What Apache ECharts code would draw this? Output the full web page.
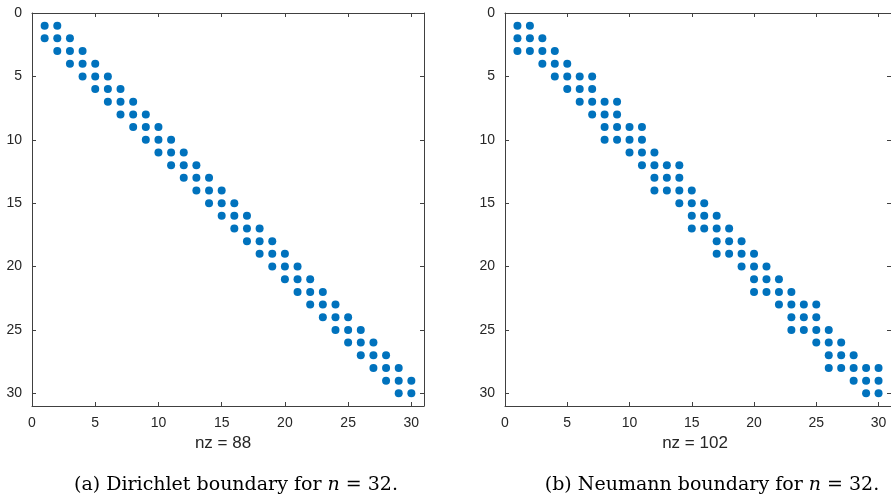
<!DOCTYPE html>
<html><head><meta charset="utf-8">
<script src="https://cdn.jsdelivr.net/npm/echarts@6/dist/echarts.min.js"></script>
<style>html,body{margin:0;padding:0;background:#fff}#c{width:891px;height:498px}</style>
</head><body><div id="c"></div>
<script>
// Non-zero column indices, per row (rows 1..30)
const dirichletCols = [
 [1,2],[1,2,3],[2,3,4],[3,4,5],[4,5,6],[5,6,7],[6,7,8],[7,8,9],[8,9,10],[9,10,11],
 [10,11,12],[11,12,13],[12,13,14],[13,14,15],[14,15,16],[15,16,17],[16,17,18],[17,18,19],[18,19,20],[19,20,21],
 [20,21,22],[21,22,23],[22,23,24],[23,24,25],[24,25,26],[25,26,27],[26,27,28],[27,28,29],[28,29,30],[29,30]
];
const neumannCols = [
 [1,2],[1,2,3],[1,2,3,4],[3,4,5],[4,5,6,7],[5,6,7],[6,7,8,9],[7,8,9],[8,9,10,11],[8,9,10,11],
 [10,11,12],[11,12,13,14],[12,13,14],[12,13,14,15],[14,15,16],[15,16,17],[15,16,17,18],[17,18,19],[17,18,19,20],[19,20,21],
 [20,21,22],[20,21,22,23],[22,23,24,25],[23,24,25],[23,24,25,26],[25,26,27],[26,27,28],[26,27,28,29,30],[28,29,30],[29,30]
];
const tickValues = [0,5,10,15,20,25,30];
const nzLabels = ['nz = 88','nz = 102'];

function toPoints(cols){const p=[];cols.forEach((cs,i)=>cs.forEach(c=>p.push([c,i+1])));return p;}

const axisCol = '#404040';
const tickFont = {fontFamily:'"Liberation Sans",Arial,sans-serif',fontSize:14,color:'#262626'};
function fmt(v){return tickValues.indexOf(v)>=0?String(v):'';}
function xAx(g,pos,labels){return {gridIndex:g,type:'value',min:0,max:31,interval:5,position:pos,
  axisLine:{onZero:false,lineStyle:{color:axisCol,width:1}},axisTick:{inside:true,length:4,lineStyle:{color:axisCol}},
  axisLabel:Object.assign({show:labels,margin:10,showMaxLabel:false,formatter:fmt},tickFont),splitLine:{show:false}};}
function yAx(g,pos,labels){return {gridIndex:g,type:'value',min:0,max:31,interval:5,inverse:true,position:pos,
  axisLine:{onZero:false,lineStyle:{color:axisCol,width:1}},axisTick:{inside:true,length:4,lineStyle:{color:axisCol}},
  axisLabel:Object.assign({show:labels,margin:10,showMaxLabel:false,formatter:fmt},tickFont),splitLine:{show:false}};}

const chart = echarts.init(document.getElementById('c'),null,{renderer:'canvas'});
const capFont = '"DejaVu Serif","Liberation Serif",serif';
const nzStyle = {fontFamily:'"Liberation Sans",Arial,sans-serif',fontSize:17,color:'#262626',fontWeight:'normal'};
const capStyle = {fontFamily:capFont,fontSize:19,fontWeight:'normal',color:'#000',
  rich:{i:{fontFamily:capFont,fontSize:19,fontStyle:'italic',color:'#000'}}};
chart.setOption({
  animation:false,
  grid:[{left:32,top:13,width:392,height:393},{left:505,top:13,width:393,height:393}],
  xAxis:[xAx(0,'bottom',true),xAx(0,'top',false),xAx(1,'bottom',true),xAx(1,'top',false)],
  yAxis:[yAx(0,'left',true),yAx(0,'right',false),yAx(1,'left',true),yAx(1,'right',false)],
  series:[
    {type:'scatter',xAxisIndex:0,yAxisIndex:0,symbolSize:8,itemStyle:{color:'#0072BD',opacity:1},data:toPoints(dirichletCols)},
    {type:'scatter',xAxisIndex:2,yAxisIndex:2,symbolSize:8,itemStyle:{color:'#0072BD',opacity:1},data:toPoints(neumannCols)}
  ],
  title:[
    {text:nzLabels[0],left:218,top:430,textAlign:'center',textStyle:nzStyle},
    {text:nzLabels[1],left:690,top:430,textAlign:'center',textStyle:nzStyle},
    {text:'(a) Dirichlet boundary for {i|n} = 32.',left:231,top:471,textAlign:'center',textStyle:capStyle},
    {text:'(b) Neumann boundary for {i|n} = 32.',left:707,top:471,textAlign:'center',textStyle:capStyle}
  ]
});
</script></body></html>
